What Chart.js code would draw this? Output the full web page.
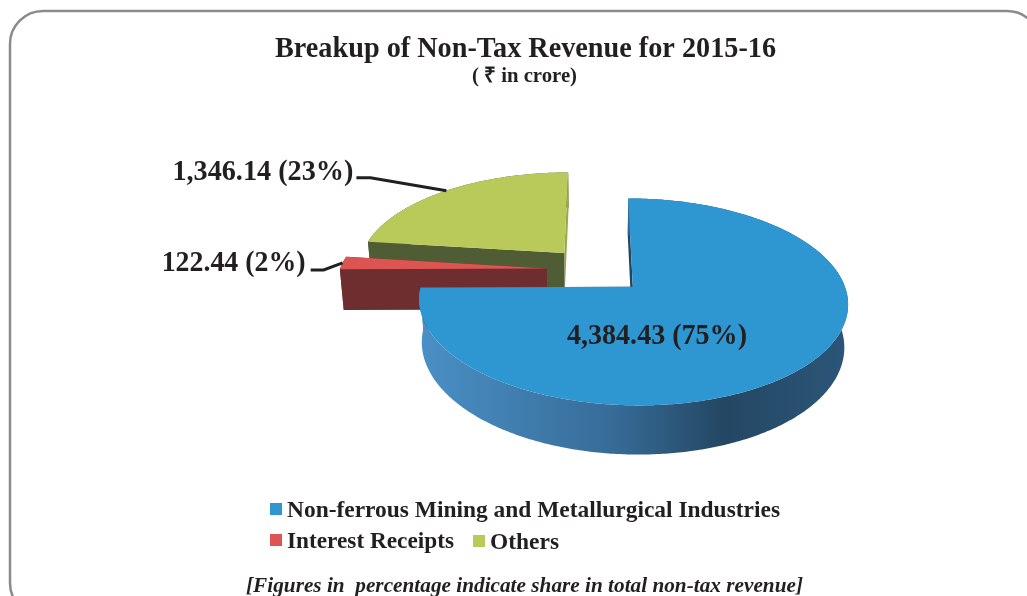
<!DOCTYPE html>
<html>
<head>
<meta charset="utf-8">
<title>Breakup of Non-Tax Revenue for 2015-16</title>
<script src="https://cdn.jsdelivr.net/npm/chart.js@4"></script>
<style>
    html, body { margin: 0; padding: 0; background: #fff; overflow: hidden; }
    canvas { display: block; }
</style>
</head>
<body>
<canvas id="revenueChart" width="1027" height="596"></canvas>
<script>
const categories = ["Non-ferrous Mining and Metallurgical Industries", "Interest Receipts", "Others"];
const revenue = [4384.43, 122.44, 1346.14];
const shares = [75, 2, 23];

const topColors = ["#2e96d1", "#dc5553", "#b9ca5a"];
const startWallColors = ["#21465f", "#6e2e30", "#4f5c34"];
const endWallColors = ["#21465f", "#6e2e30", "#98a94c"];
const rimStops = [
    [[0, "#4a90c6"], [0.45, "#376c98"], [0.71, "#244763"], [1, "#2b5679"]],
    [[0, "#6e2e30"], [1, "#6e2e30"]],
    [[0, "#4f5c34"], [1, "#4f5c34"]]
];

const TEXT = "#231f20";
const SERIF = '"Liberation Serif", "Times New Roman", serif';

// Tilt and perspective of the pie plane
const TILT = 0.466;
const PERSPECTIVE = 0.142;
const DEPTH = 41;
const BOTTOM_SCALE = 0.985;
const EXPLODE = 50;

function project(arc, angle, radius, bottom) {
    const mid = (arc.startAngle + arc.endAngle) / 2;
    const px = EXPLODE * Math.cos(mid) + radius * Math.cos(angle);
    const py = EXPLODE * Math.sin(mid) + radius * Math.sin(angle);
    const s = 1 / (1 - PERSPECTIVE * py / arc.outerRadius);
    let x = arc.x + px * s;
    let y = arc.y + py * TILT * s;
    if (bottom) {
        x = arc.x + (x - arc.x) * BOTTOM_SCALE;
        y += DEPTH * s;
    }
    return { x, y };
}

function rimPoints(arc, bottom) {
    const pts = [];
    const steps = Math.max(2, Math.ceil((arc.endAngle - arc.startAngle) * 90));
    for (let i = 0; i <= steps; i++) {
        const a = arc.startAngle + (arc.endAngle - arc.startAngle) * i / steps;
        pts.push(project(arc, a, arc.outerRadius, bottom));
    }
    return pts;
}

function fillPoly(ctx, pts, color) {
    ctx.beginPath();
    pts.forEach((p, i) => i ? ctx.lineTo(p.x, p.y) : ctx.moveTo(p.x, p.y));
    ctx.closePath();
    ctx.fillStyle = color;
    ctx.fill();
}

function drawSlice(ctx, arc, i) {
    const top = rimPoints(arc, false);
    const bottom = rimPoints(arc, true);
    const apexTop = project(arc, 0, 0, false);
    const apexBottom = project(arc, 0, 0, true);

    const xs = top.map(p => p.x);
    const grad = ctx.createLinearGradient(Math.min(...xs), 0, Math.max(...xs), 0);
    rimStops[i].forEach(([stop, color]) => grad.addColorStop(stop, color));
    const rim = top.concat(bottom.slice().reverse());

    // a slice lying in the back half has its curved wall behind the cut edges
    const facesBack = Math.sin((arc.startAngle + arc.endAngle) / 2) < 0;
    if (facesBack) fillPoly(ctx, rim, grad);
    fillPoly(ctx, [apexTop, top[top.length - 1], bottom[bottom.length - 1], apexBottom], endWallColors[i]);
    fillPoly(ctx, [apexTop, top[0], bottom[0], apexBottom], startWallColors[i]);
    if (!facesBack) fillPoly(ctx, rim, grad);

    // top face
    fillPoly(ctx, [apexTop].concat(top), topColors[i]);
}

function putText(ctx, str, x, y, font, align, maxWidth) {
    ctx.font = font;
    ctx.fillStyle = TEXT;
    ctx.textAlign = align || "left";
    ctx.textBaseline = "alphabetic";
    ctx.fillText(str, x, y, maxWidth);
}

function valueLabel(i) {
    const amount = revenue[i].toLocaleString("en-US", { minimumFractionDigits: 2 });
    return `${amount} (${shares[i]}%)`;
}

const framePlugin = {
    id: "frame",
    beforeDraw(chart) {
        const ctx = chart.ctx;
        ctx.save();
        ctx.fillStyle = "#fff";
        ctx.fillRect(0, 0, chart.width, chart.height);
        ctx.beginPath();
        ctx.roundRect(10, 11, 1030, 605, 33);
        ctx.strokeStyle = "#8a8b8e";
        ctx.lineWidth = 2.5;
        ctx.stroke();
        ctx.restore();
    }
};

const pie3dPlugin = {
    id: "pie3d",
    beforeDatasetsDraw(chart) {
        const ctx = chart.ctx;
        const arcs = chart.getDatasetMeta(0).data;
        ctx.save();
        // back slices first, the big front slice last
        [2, 1, 0].forEach(i => drawSlice(ctx, arcs[i], i));
        ctx.restore();
        return false;
    }
};

const textPlugin = {
    id: "texts",
    afterDraw(chart) {
        const ctx = chart.ctx;
        const arcs = chart.getDatasetMeta(0).data;
        ctx.save();

        putText(ctx, "Breakup of Non-Tax Revenue for 2015-16", 525.5, 57, `bold 29px ${SERIF}`, "center", 501);
        putText(ctx, "( ₹ in crore)", 524.5, 82, `bold 21px ${SERIF}`, "center", 105);

        // outside labels with leader lines from the middle of the rim
        [1, 2].forEach(i => {
            const arc = arcs[i];
            const end = project(arc, (arc.startAngle + arc.endAngle) / 2, arc.outerRadius, false);
            const dx = i === 2 ? 76 : 19;
            const dy = i === 2 ? 13 : -7;
            const run = i === 2 ? 14 : 13;
            ctx.beginPath();
            ctx.moveTo(end.x, end.y);
            ctx.lineTo(end.x - dx, end.y - dy);
            ctx.lineTo(end.x - dx - run, end.y - dy);
            ctx.strokeStyle = TEXT;
            ctx.lineWidth = 3;
            ctx.stroke();
            const width = i === 2 ? 181 : 144;
            const gap = i === 2 ? 3 : 5;
            putText(ctx, valueLabel(i), end.x - dx - run - gap, end.y - dy + (i === 2 ? 2 : 1), `bold 29px ${SERIF}`, "right", width);
        });
        putText(ctx, valueLabel(0), 657, 344, `bold 29px ${SERIF}`, "center", 180);

        // legend
        const legendFont = `bold 24px ${SERIF}`;
        ctx.fillStyle = topColors[0];
        ctx.fillRect(270, 503, 12, 12);
        putText(ctx, categories[0], 287, 517, legendFont, "left", 493);
        ctx.fillStyle = topColors[1];
        ctx.fillRect(270, 534, 12, 12);
        putText(ctx, categories[1], 287, 548, legendFont, "left", 167);
        ctx.fillStyle = topColors[2];
        ctx.fillRect(473, 535, 12, 12);
        putText(ctx, categories[2], 490, 549, legendFont, "left", 69);

        putText(ctx, "[Figures in  percentage indicate share in total non-tax revenue]", 246, 592, `italic bold 21.3px ${SERIF}`, "left", 557);
        ctx.restore();
    }
};

const chart = new Chart(document.getElementById("revenueChart"), {
    type: "pie",
    data: {
        labels: categories,
        datasets: [{
            data: revenue,
            backgroundColor: topColors,
            borderWidth: 0
        }]
    },
    options: {
        responsive: false,
        animation: false,
        radius: 207,
        layout: { padding: { left: 166, right: 0, top: 0, bottom: 56 } },
        plugins: {
            legend: { display: false },
            title: { display: false },
            tooltip: { enabled: false }
        }
    },
    plugins: [framePlugin, pie3dPlugin, textPlugin]
});
</script>
</body>
</html>
